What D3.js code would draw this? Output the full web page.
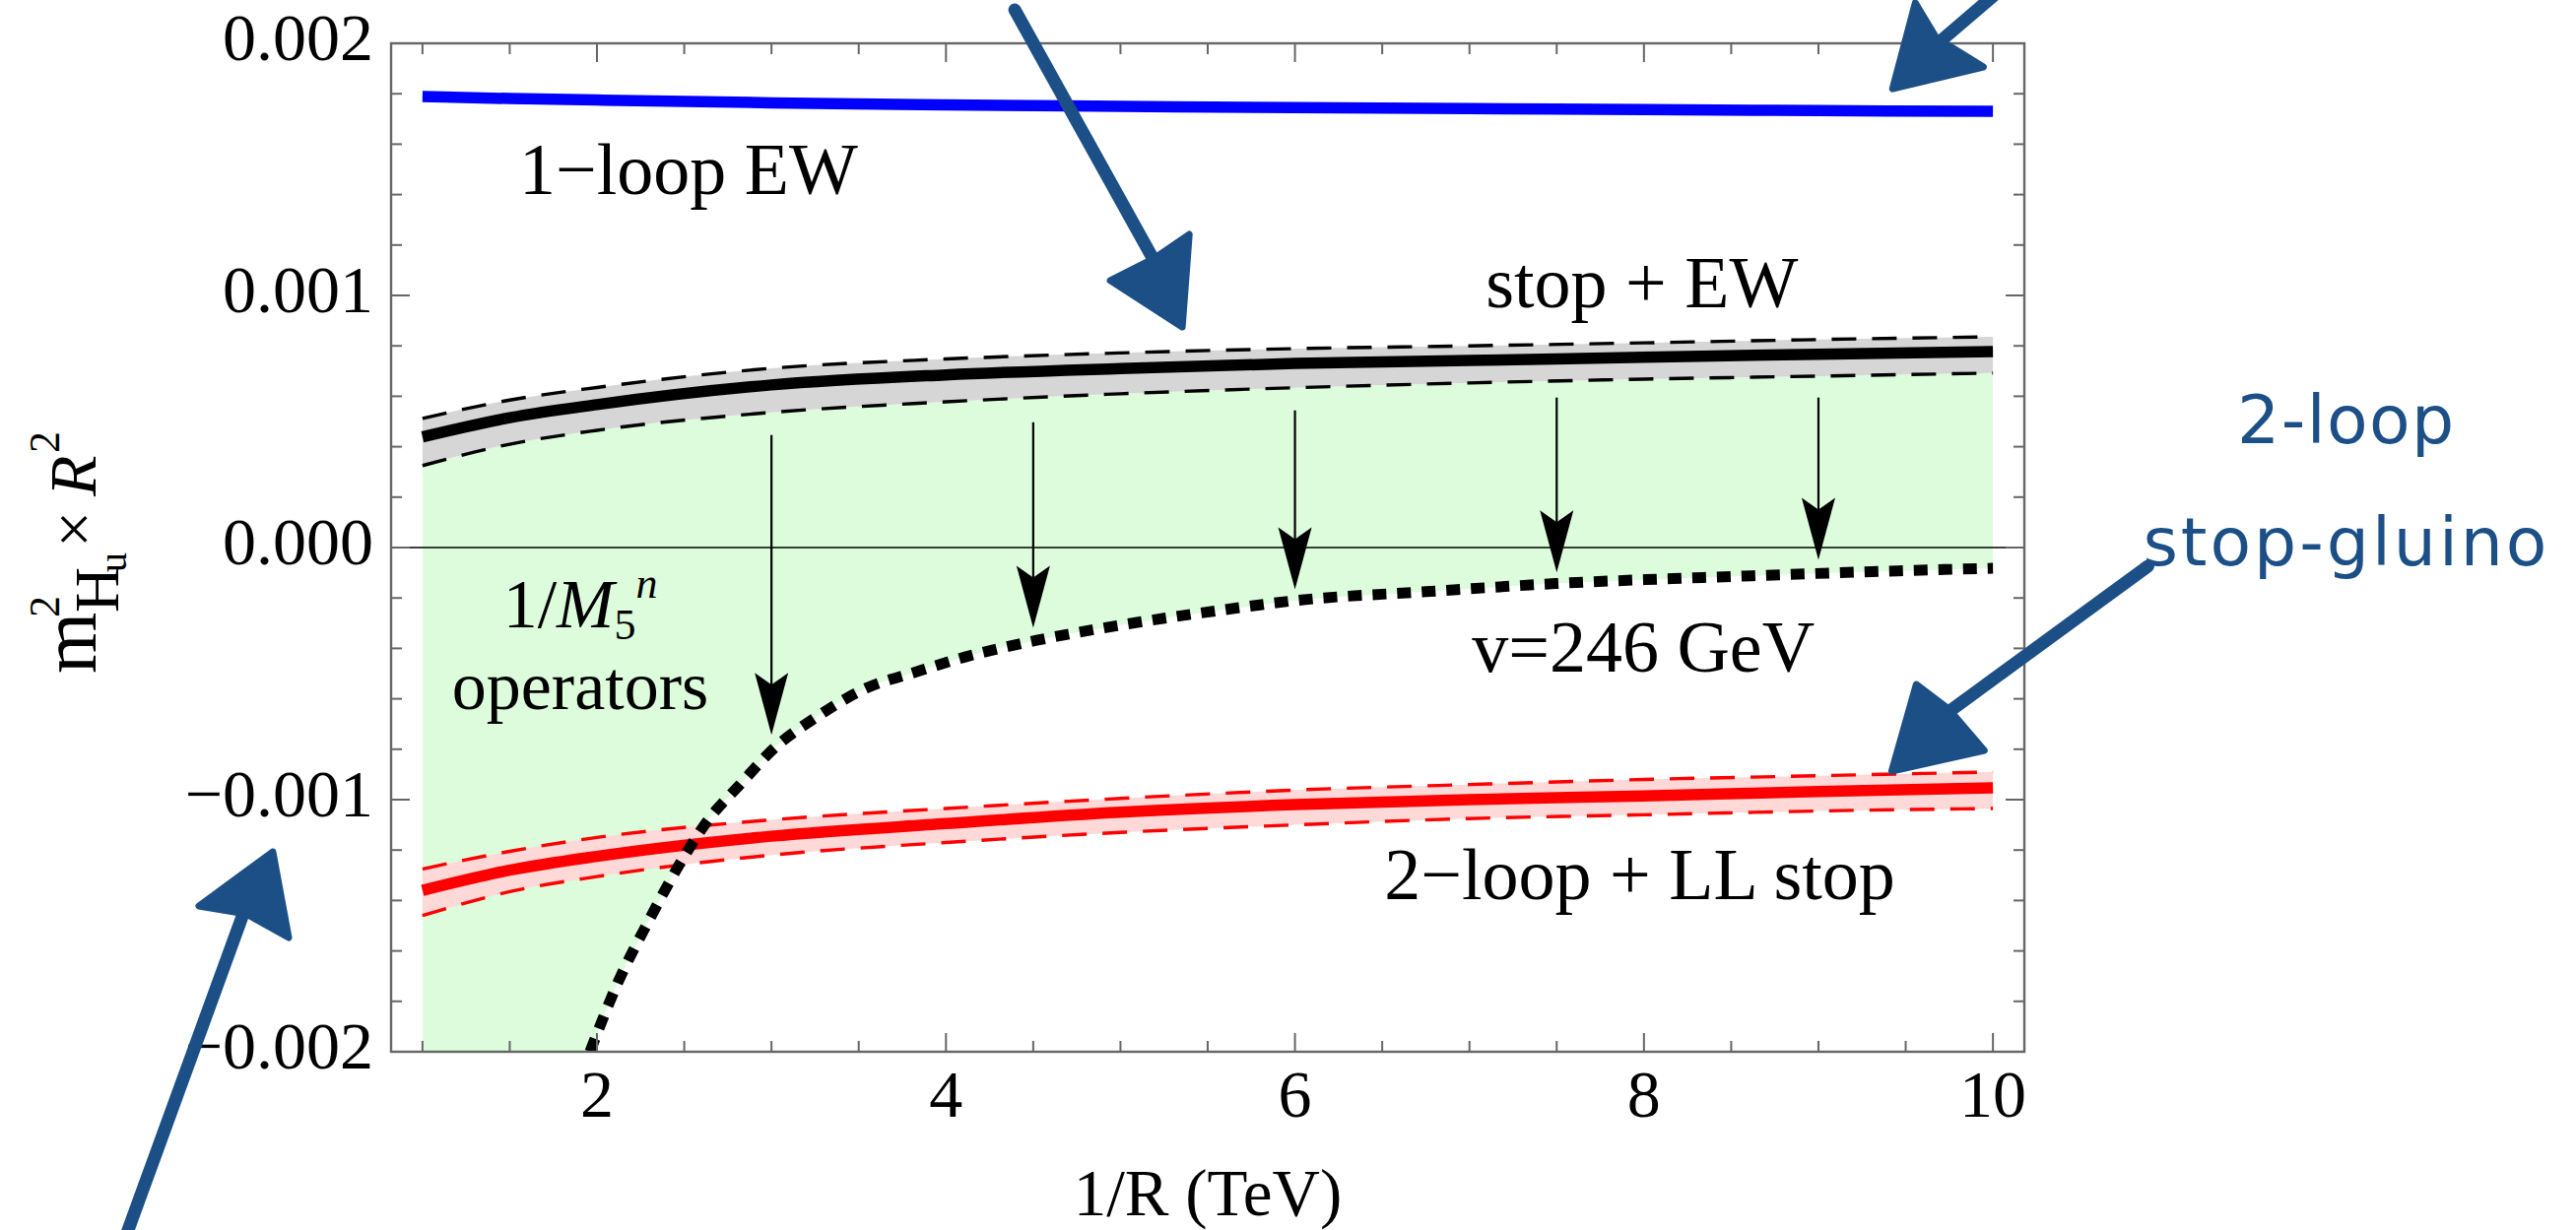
<!DOCTYPE html>
<html>
<head>
<meta charset="utf-8">
<script src="https://cdn.jsdelivr.net/npm/d3@7"></script>
<style>
html,body{margin:0;padding:0;background:#fff;}
svg{display:block;}
text{font-family:"Liberation Serif","Times New Roman",serif;fill:#000;}
text.hand{font-family:"DejaVu Sans",sans-serif;fill:#1b4f86;}
</style>
</head>
<body>
<svg id="chart" width="2615" height="1249"></svg>
<script>
// ── DONNÉES (ordonnées en unités de 1e-4) ───────────────────────────────
var X_GRID=[1,1.5,2,3,4,5,6,7,8,9,10];
var EW_1LOOP=[17.89,17.81,17.75,17.64,17.56,17.50,17.45,17.41,17.37,17.33,17.30];
var STOP_EW=[4.39,5.15,5.67,6.45,6.85,7.10,7.30,7.42,7.55,7.67,7.77];
var STOP_EW_HI=[5.12,5.85,6.35,7.11,7.48,7.72,7.89,8.00,8.12,8.25,8.36];
var STOP_EW_LO=[3.25,4.10,4.65,5.36,5.78,6.10,6.34,6.53,6.68,6.80,6.92];
var LOOP2_LL=[-13.60,-12.80,-12.25,-11.45,-10.95,-10.50,-10.20,-10.00,-9.85,-9.68,-9.53];
var LOOP2_LL_HI=[-12.75,-12.05,-11.50,-10.80,-10.35,-9.95,-9.62,-9.40,-9.20,-9.05,-8.90];
var LOOP2_LL_LO=[-14.60,-13.65,-13.05,-12.20,-11.70,-11.30,-11.00,-10.75,-10.60,-10.45,-10.35];

// courbe v=246 GeV (pointillés)
var VEV_X=[1.96,2.12,2.30,2.47,2.64,2.82,3.02,3.25,3.54,3.83,4.11,4.52,4.98,5.56,6.02,6.75,7.49,8.5,9.2,10];
var VEV_Y=[-20.0,-17.25,-14.76,-12.6,-10.78,-9.4,-7.93,-6.76,-5.59,-4.93,-4.34,-3.68,-3.1,-2.5,-2.09,-1.75,-1.43,-1.15,-0.98,-0.82];

// flèches verticales noires
var ARROW_X=[3,4.5,6,7.5,9];
var ARROW_FROM=[4.46,4.97,5.44,5.95,5.95];
var ARROW_TO=[-7.43,-3.18,-1.66,-0.99,-0.49];

// axes
var X_MAJOR=[2,4,6,8,10];
var X_MINOR=[1,1.5,2.5,3,3.5,4.5,5,5.5,6.5,7,7.5,8.5,9,9.5];
var Y_MAJOR=[-20,-10,0,10,20];
var Y_LABELS=["\u22120.002","\u22120.001","0.000","0.001","0.002"];
var Y_MINOR=[-18,-16,-14,-12,-8,-6,-4,-2,2,4,6,8,12,14,16,18];

// étiquettes (position en coordonnées des données)
var LABELS=[
  {t:"1\u2212loop EW",x:1.554,y:14.02},
  {t:"stop + EW",x:7.093,y:9.53},
  {t:"v=246 GeV",x:7.014,y:-4.92},
  {t:"2\u2212loop + LL stop",x:6.512,y:-13.95}
];

// annotations manuscrites bleues : tiges et pointes (coordonnées des données)
var HAND_SHAFTS=[
  [4.394,21.33,5.241,10.78],
  [10.041,22.11,9.646,19.77],
  [10.888,-0.74,9.730,-6.60],
  [-0.699,-27.3,-0.021,-14.41]
];
var HAND_HEADS=[
  [[5.354,8.75],[4.942,10.59],[5.196,11.48],[5.394,12.42]],
  [[9.425,18.2],[9.555,21.6],[9.674,20.23],[9.945,19.06]],
  [[9.420,-8.87],[9.561,-5.43],[9.747,-6.41],[9.950,-8.05]],
  [[0.142,-12.07],[-0.281,-14.22],[-0.010,-14.53],[0.233,-15.47]]
];
var HAND_TEXT=[
  {t:"2-loop",x:11.40,y:4.14,w:220},
  {t:"stop-gluino",x:10.86,y:-0.70,w:410}
];

var U=1e-4;
var BLUE_HAND="#1b4f86";

// ── ÉCHELLES ───────────────────────────────────────────────────────────
var x=d3.scaleLinear().domain([0.82,10.18]).range([397,2055]);
var y=d3.scaleLinear().domain([-0.002,0.002]).range([1068,44]);
var X0=x.range()[0],X1=x.range()[1],Y0=y.range()[1],Y1=y.range()[0];

var svg=d3.select("#chart");
var defs=svg.append("defs");
defs.append("clipPath").attr("id","plot").append("rect")
  .attr("x",X0).attr("y",Y0).attr("width",X1-X0).attr("height",Y1-Y0);

function pts(ys){return X_GRID.map(function(v,i){return [v,ys[i]];});}
var line=d3.line().x(function(d){return x(d[0]);}).y(function(d){return y(d[1]*U);}).curve(d3.curveMonotoneX);
function band(lo,hi){
  return d3.area().x(function(d){return x(d);})
    .y0(function(d,i){return y(lo[i]*U);}).y1(function(d,i){return y(hi[i]*U);})
    .curve(d3.curveMonotoneX)(X_GRID);
}
var vevPts=VEV_X.map(function(v,i){return [v,VEV_Y[i]];});

// zone verte : sous la bande stop+EW, au-dessus de la courbe v=246 GeV
var gclip=defs.append("clipPath").attr("id","greenclip");
gclip.append("rect").attr("x",X0).attr("y",Y0).attr("width",x(VEV_X[0])-X0).attr("height",Y1-Y0);
gclip.append("path").attr("d",d3.area().x(function(d){return x(d[0]);})
  .y0(function(d){return y(d[1]*U);}).y1(Y0).curve(d3.curveMonotoneX)(vevPts));

var g=svg.append("g").attr("clip-path","url(#plot)");
g.append("g").attr("clip-path","url(#greenclip)").append("path")
  .attr("d",d3.area().x(function(d){return x(d);})
    .y0(y(-0.002)).y1(function(d,i){return y(STOP_EW_LO[i]*U);}).curve(d3.curveMonotoneX)(X_GRID))
  .attr("fill","#dcfcdc");

g.append("path").attr("d",band(STOP_EW_LO,STOP_EW_HI)).attr("fill","#d6d6d6");
g.append("path").attr("d",band(LOOP2_LL_LO,LOOP2_LL_HI)).attr("fill","#ffd8d8");

// ligne zéro
g.append("line").attr("x1",X0).attr("x2",X1).attr("y1",y(0)).attr("y2",y(0))
  .attr("stroke","#000").attr("stroke-width",1.6);

function curve(ys,col,w,dash){
  var p=g.append("path").attr("d",line(pts(ys))).attr("fill","none")
    .attr("stroke",col).attr("stroke-width",w);
  if(dash)p.attr("stroke-dasharray",dash);
  return p;
}
curve(EW_1LOOP,"#0000ff",11.5);
curve(STOP_EW_HI,"#000",3.4,"25,16");
curve(STOP_EW_LO,"#000",3.4,"25,16");
curve(STOP_EW,"#000",11.5);
curve(LOOP2_LL_HI,"#ff0000",3.4,"25,16");
curve(LOOP2_LL_LO,"#ff0000",3.4,"25,16");
curve(LOOP2_LL,"#ff0000",11.5);

g.append("path").attr("d",line(vevPts)).attr("fill","none")
  .attr("stroke","#000").attr("stroke-width",11).attr("stroke-dasharray","14,11");

// flèches noires verticales
ARROW_X.forEach(function(ax,i){
  var px=x(ax),pt=y(ARROW_TO[i]*U);
  g.append("line").attr("x1",px).attr("x2",px).attr("y1",y(ARROW_FROM[i]*U)).attr("y2",pt-40)
    .attr("stroke","#000").attr("stroke-width",2.2);
  g.append("path").attr("transform","translate("+px+","+pt+")")
    .attr("d","M0,0L-17,-63L0,-51L17,-63Z").attr("fill","#000");
});

// ── CADRE ET GRADUATIONS ───────────────────────────────────────────────
var fr=svg.append("g").attr("stroke","#666").attr("fill","none");
fr.append("rect").attr("x",X0).attr("y",Y0).attr("width",X1-X0).attr("height",Y1-Y0).attr("stroke-width",2.4);
function xt(vals,len){
  vals.forEach(function(v){
    fr.append("line").attr("x1",x(v)).attr("x2",x(v)).attr("y1",Y1).attr("y2",Y1-len).attr("stroke-width",2);
    fr.append("line").attr("x1",x(v)).attr("x2",x(v)).attr("y1",Y0).attr("y2",Y0+len).attr("stroke-width",2);
  });
}
function yt(vals,len){
  vals.forEach(function(v){
    fr.append("line").attr("x1",X0).attr("x2",X0+len).attr("y1",y(v*U)).attr("y2",y(v*U)).attr("stroke-width",2);
    fr.append("line").attr("x1",X1).attr("x2",X1-len).attr("y1",y(v*U)).attr("y2",y(v*U)).attr("stroke-width",2);
  });
}
xt(X_MAJOR,19);xt(X_MINOR,11);
yt(Y_MAJOR,19);yt(Y_MINOR,11);

var tl=svg.append("g").attr("font-size",68);
X_MAJOR.forEach(function(v){
  tl.append("text").attr("x",x(v)).attr("y",Y1+66).attr("text-anchor","middle").text(v);
});
Y_MAJOR.forEach(function(v,i){
  tl.append("text").attr("x",X0-18).attr("y",y(v*U)+17).attr("text-anchor","end").text(Y_LABELS[i]);
});

// titres des axes
svg.append("text").attr("x",(X0+X1)/2).attr("y",1234).attr("text-anchor","middle")
  .attr("font-size",67).text("1/R (TeV)");

var yl=svg.append("text").attr("transform","translate(97,684) rotate(-90)");
yl.append("tspan").attr("x",0).attr("y",0).attr("font-size",80).text("m");
yl.append("tspan").attr("x",57).attr("y",-37).attr("font-size",44).text("2");
yl.append("tspan").attr("x",62).attr("y",23).attr("font-size",64).text("H");
yl.append("tspan").attr("x",103).attr("y",31).attr("font-size",40).text("u");
yl.append("tspan").attr("x",128).attr("y",0).attr("font-size",66).text("\u00d7");
yl.append("tspan").attr("x",180).attr("y",0).attr("font-size",68).attr("font-style","italic").text("R");
yl.append("tspan").attr("x",224).attr("y",-37).attr("font-size",44).text("2");

// étiquettes des courbes
LABELS.forEach(function(l){
  svg.append("text").attr("x",x(l.x)).attr("y",y(l.y*U)).attr("font-size",74).text(l.t);
});
var op=svg.append("text").attr("x",x(1.904)).attr("y",y(-3.16*U)).attr("text-anchor","middle").attr("font-size",70);
op.append("tspan").text("1/");
op.append("tspan").attr("font-style","italic").text("M");
op.append("tspan").attr("font-size",44).attr("dy",12).text("5");
op.append("tspan").attr("font-size",44).attr("font-style","italic").attr("dy",-42).text("n");
svg.append("text").attr("x",x(1.904)).attr("y",y(-6.4*U)).attr("text-anchor","middle")
  .attr("font-size",70).text("operators");

// ── ANNOTATIONS MANUSCRITES ────────────────────────────────────────────
var hand=svg.append("g").attr("fill",BLUE_HAND).attr("stroke",BLUE_HAND);
HAND_SHAFTS.forEach(function(s){
  hand.append("line").attr("x1",x(s[0])).attr("y1",y(s[1]*U)).attr("x2",x(s[2])).attr("y2",y(s[3]*U))
    .attr("stroke-width",13).attr("stroke-linecap","round");
});
var headLine=d3.line().x(function(d){return x(d[0]);}).y(function(d){return y(d[1]*U);});
HAND_HEADS.forEach(function(h){
  hand.append("path").attr("d",headLine(h)+"Z").attr("stroke-width",7).attr("stroke-linejoin","round");
});
HAND_TEXT.forEach(function(t){
  svg.append("text").attr("class","hand").attr("x",x(t.x)).attr("y",y(t.y*U))
    .attr("textLength",t.w).attr("lengthAdjust","spacing")
    .attr("font-size",68).text(t.t);
});
</script>
</body>
</html>
